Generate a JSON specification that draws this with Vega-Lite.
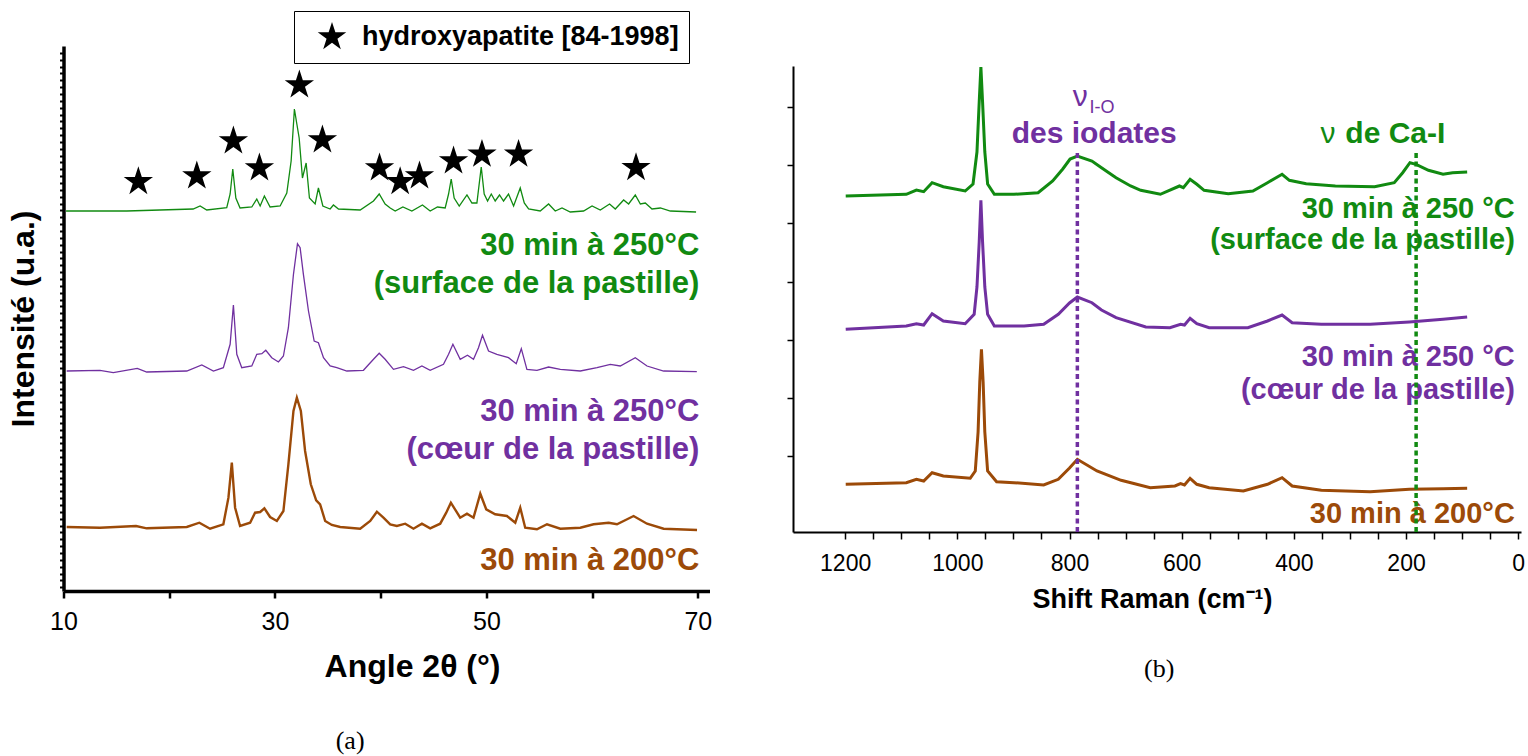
{
  "$schema": "https://vega.github.io/schema/vega-lite/v6.json",
  "background": "white",
  "padding": {"left": 7.5, "top": 10, "right": 0, "bottom": 0},
  "bounds": "flush",
  "spacing": 83.5,
  "config": {
    "view": {"stroke": null},
    "font": "Liberation Sans",
    "axis": {"grid": false, "labelFont": "Liberation Sans", "titleFont": "Liberation Sans", "labelColor": "black", "titleColor": "black", "domainColor": "black", "tickColor": "black", "labelFlush": false, "labelOverlap": false, "titleFontWeight": "bold", "labelFontWeight": "normal"}
  },
  "datasets": {
    "xrd": [
      {"sample": "250 °C surface", "angle": 10.24, "intensity": 380}, {"sample": "250 °C surface", "angle": 15.98, "intensity": 380}, {"sample": "250 °C surface", "angle": 22.26, "intensity": 382}, {"sample": "250 °C surface", "angle": 22.92, "intensity": 385}, {"sample": "250 °C surface", "angle": 23.55, "intensity": 381}, {"sample": "250 °C surface", "angle": 25.44, "intensity": 383.3}, {"sample": "250 °C surface", "angle": 25.76, "intensity": 397}, {"sample": "250 °C surface", "angle": 26.01, "intensity": 422}, {"sample": "250 °C surface", "angle": 26.3, "intensity": 393}, {"sample": "250 °C surface", "angle": 26.7, "intensity": 383}, {"sample": "250 °C surface", "angle": 27.81, "intensity": 384}, {"sample": "250 °C surface", "angle": 28.28, "intensity": 392}, {"sample": "250 °C surface", "angle": 28.6, "intensity": 385}, {"sample": "250 °C surface", "angle": 29.0, "intensity": 395}, {"sample": "250 °C surface", "angle": 29.54, "intensity": 384}, {"sample": "250 °C surface", "angle": 30.49, "intensity": 385}, {"sample": "250 °C surface", "angle": 31.12, "intensity": 398}, {"sample": "250 °C surface", "angle": 31.53, "intensity": 430}, {"sample": "250 °C surface", "angle": 31.84, "intensity": 482}, {"sample": "250 °C surface", "angle": 32.07, "intensity": 467}, {"sample": "250 °C surface", "angle": 32.29, "intensity": 453}, {"sample": "250 °C surface", "angle": 32.6, "intensity": 413}, {"sample": "250 °C surface", "angle": 32.95, "intensity": 428}, {"sample": "250 °C surface", "angle": 33.26, "intensity": 393}, {"sample": "250 °C surface", "angle": 33.8, "intensity": 387}, {"sample": "250 °C surface", "angle": 34.11, "intensity": 403}, {"sample": "250 °C surface", "angle": 34.53, "intensity": 385}, {"sample": "250 °C surface", "angle": 35.22, "intensity": 382}, {"sample": "250 °C surface", "angle": 35.53, "intensity": 386}, {"sample": "250 °C surface", "angle": 36.01, "intensity": 382}, {"sample": "250 °C surface", "angle": 38.06, "intensity": 381}, {"sample": "250 °C surface", "angle": 39.32, "intensity": 390}, {"sample": "250 °C surface", "angle": 39.86, "intensity": 397}, {"sample": "250 °C surface", "angle": 40.42, "intensity": 387}, {"sample": "250 °C surface", "angle": 40.9, "intensity": 383}, {"sample": "250 °C surface", "angle": 41.37, "intensity": 380}, {"sample": "250 °C surface", "angle": 42.1, "intensity": 384}, {"sample": "250 °C surface", "angle": 42.95, "intensity": 380}, {"sample": "250 °C surface", "angle": 43.95, "intensity": 386}, {"sample": "250 °C surface", "angle": 44.68, "intensity": 380}, {"sample": "250 °C surface", "angle": 45.37, "intensity": 384}, {"sample": "250 °C surface", "angle": 46.1, "intensity": 383}, {"sample": "250 °C surface", "angle": 46.42, "intensity": 397}, {"sample": "250 °C surface", "angle": 46.67, "intensity": 412}, {"sample": "250 °C surface", "angle": 46.95, "intensity": 393}, {"sample": "250 °C surface", "angle": 47.43, "intensity": 385}, {"sample": "250 °C surface", "angle": 48.16, "intensity": 396}, {"sample": "250 °C surface", "angle": 48.63, "intensity": 388}, {"sample": "250 °C surface", "angle": 49.1, "intensity": 388}, {"sample": "250 °C surface", "angle": 49.51, "intensity": 424}, {"sample": "250 °C surface", "angle": 49.79, "intensity": 397}, {"sample": "250 °C surface", "angle": 50.11, "intensity": 390}, {"sample": "250 °C surface", "angle": 50.46, "intensity": 397}, {"sample": "250 °C surface", "angle": 50.83, "intensity": 390}, {"sample": "250 °C surface", "angle": 51.24, "intensity": 396}, {"sample": "250 °C surface", "angle": 51.62, "intensity": 390}, {"sample": "250 °C surface", "angle": 52.09, "intensity": 397}, {"sample": "250 °C surface", "angle": 52.57, "intensity": 385}, {"sample": "250 °C surface", "angle": 53.2, "intensity": 403}, {"sample": "250 °C surface", "angle": 53.58, "intensity": 388}, {"sample": "250 °C surface", "angle": 53.99, "intensity": 382}, {"sample": "250 °C surface", "angle": 55.09, "intensity": 380}, {"sample": "250 °C surface", "angle": 55.88, "intensity": 387}, {"sample": "250 °C surface", "angle": 56.51, "intensity": 380}, {"sample": "250 °C surface", "angle": 57.15, "intensity": 383}, {"sample": "250 °C surface", "angle": 57.93, "intensity": 379}, {"sample": "250 °C surface", "angle": 59.19, "intensity": 380}, {"sample": "250 °C surface", "angle": 59.99, "intensity": 385}, {"sample": "250 °C surface", "angle": 60.77, "intensity": 381}, {"sample": "250 °C surface", "angle": 61.65, "intensity": 387}, {"sample": "250 °C surface", "angle": 62.19, "intensity": 382}, {"sample": "250 °C surface", "angle": 62.98, "intensity": 391}, {"sample": "250 °C surface", "angle": 63.45, "intensity": 387}, {"sample": "250 °C surface", "angle": 64.08, "intensity": 396}, {"sample": "250 °C surface", "angle": 64.56, "intensity": 387}, {"sample": "250 °C surface", "angle": 65.03, "intensity": 388}, {"sample": "250 °C surface", "angle": 65.66, "intensity": 382}, {"sample": "250 °C surface", "angle": 66.45, "intensity": 383}, {"sample": "250 °C surface", "angle": 67.4, "intensity": 380}, {"sample": "250 °C surface", "angle": 69.83, "intensity": 379},
      {"sample": "250 °C cœur", "angle": 10.3, "intensity": 220}, {"sample": "250 °C cœur", "angle": 13.45, "intensity": 220.7}, {"sample": "250 °C cœur", "angle": 14.71, "intensity": 218.3}, {"sample": "250 °C cœur", "angle": 16.98, "intensity": 222.7}, {"sample": "250 °C cœur", "angle": 17.87, "intensity": 219}, {"sample": "250 °C cœur", "angle": 21.66, "intensity": 220}, {"sample": "250 °C cœur", "angle": 23.08, "intensity": 226}, {"sample": "250 °C cœur", "angle": 24.18, "intensity": 220}, {"sample": "250 °C cœur", "angle": 25.12, "intensity": 223.3}, {"sample": "250 °C cœur", "angle": 25.76, "intensity": 246.7}, {"sample": "250 °C cœur", "angle": 26.07, "intensity": 286}, {"sample": "250 °C cœur", "angle": 26.39, "intensity": 236.7}, {"sample": "250 °C cœur", "angle": 26.86, "intensity": 223.3}, {"sample": "250 °C cœur", "angle": 27.81, "intensity": 225}, {"sample": "250 °C cœur", "angle": 28.28, "intensity": 236.7}, {"sample": "250 °C cœur", "angle": 28.76, "intensity": 237.3}, {"sample": "250 °C cœur", "angle": 29.13, "intensity": 240.7}, {"sample": "250 °C cœur", "angle": 29.7, "intensity": 233.3}, {"sample": "250 °C cœur", "angle": 30.33, "intensity": 229}, {"sample": "250 °C cœur", "angle": 30.8, "intensity": 235}, {"sample": "250 °C cœur", "angle": 31.27, "intensity": 263.3}, {"sample": "250 °C cœur", "angle": 31.75, "intensity": 316.7}, {"sample": "250 °C cœur", "angle": 32.13, "intensity": 347.3}, {"sample": "250 °C cœur", "angle": 32.38, "intensity": 343.3}, {"sample": "250 °C cœur", "angle": 32.69, "intensity": 316.7}, {"sample": "250 °C cœur", "angle": 33.17, "intensity": 280}, {"sample": "250 °C cœur", "angle": 33.71, "intensity": 250}, {"sample": "250 °C cœur", "angle": 34.11, "intensity": 248.3}, {"sample": "250 °C cœur", "angle": 34.59, "intensity": 233.3}, {"sample": "250 °C cœur", "angle": 35.22, "intensity": 225}, {"sample": "250 °C cœur", "angle": 35.85, "intensity": 223.3}, {"sample": "250 °C cœur", "angle": 36.8, "intensity": 220}, {"sample": "250 °C cœur", "angle": 38.37, "intensity": 220.7}, {"sample": "250 °C cœur", "angle": 39.32, "intensity": 231.7}, {"sample": "250 °C cœur", "angle": 39.86, "intensity": 237.7}, {"sample": "250 °C cœur", "angle": 40.42, "intensity": 231.7}, {"sample": "250 °C cœur", "angle": 41.21, "intensity": 221.7}, {"sample": "250 °C cœur", "angle": 42.16, "intensity": 224.3}, {"sample": "250 °C cœur", "angle": 43.1, "intensity": 220.7}, {"sample": "250 °C cœur", "angle": 43.9, "intensity": 225}, {"sample": "250 °C cœur", "angle": 44.68, "intensity": 220.7}, {"sample": "250 °C cœur", "angle": 45.94, "intensity": 226.7}, {"sample": "250 °C cœur", "angle": 46.42, "intensity": 236.7}, {"sample": "250 °C cœur", "angle": 46.83, "intensity": 246.7}, {"sample": "250 °C cœur", "angle": 47.52, "intensity": 231.7}, {"sample": "250 °C cœur", "angle": 48.21, "intensity": 235.7}, {"sample": "250 °C cœur", "angle": 48.78, "intensity": 231.7}, {"sample": "250 °C cœur", "angle": 49.25, "intensity": 243.3}, {"sample": "250 °C cœur", "angle": 49.63, "intensity": 255.7}, {"sample": "250 °C cœur", "angle": 50.2, "intensity": 240}, {"sample": "250 °C cœur", "angle": 50.99, "intensity": 236.7}, {"sample": "250 °C cœur", "angle": 52.09, "intensity": 233.3}, {"sample": "250 °C cœur", "angle": 52.82, "intensity": 227.3}, {"sample": "250 °C cœur", "angle": 53.3, "intensity": 242.3}, {"sample": "250 °C cœur", "angle": 53.83, "intensity": 221.7}, {"sample": "250 °C cœur", "angle": 54.78, "intensity": 220.7}, {"sample": "250 °C cœur", "angle": 55.88, "intensity": 224}, {"sample": "250 °C cœur", "angle": 56.99, "intensity": 221.7}, {"sample": "250 °C cœur", "angle": 58.88, "intensity": 220}, {"sample": "250 °C cœur", "angle": 60.46, "intensity": 223.3}, {"sample": "250 °C cœur", "angle": 61.72, "intensity": 226.7}, {"sample": "250 °C cœur", "angle": 62.66, "intensity": 225}, {"sample": "250 °C cœur", "angle": 64.08, "intensity": 233.3}, {"sample": "250 °C cœur", "angle": 65.19, "intensity": 225}, {"sample": "250 °C cœur", "angle": 66.76, "intensity": 220}, {"sample": "250 °C cœur", "angle": 69.9, "intensity": 219.3},
      {"sample": "200 °C", "angle": 10.3, "intensity": 64}, {"sample": "200 °C", "angle": 13.45, "intensity": 63.3}, {"sample": "200 °C", "angle": 16.86, "intensity": 65}, {"sample": "200 °C", "angle": 17.87, "intensity": 62.7}, {"sample": "200 °C", "angle": 21.66, "intensity": 64}, {"sample": "200 °C", "angle": 22.85, "intensity": 68.3}, {"sample": "200 °C", "angle": 23.86, "intensity": 62.3}, {"sample": "200 °C", "angle": 25.12, "intensity": 66.7}, {"sample": "200 °C", "angle": 25.6, "intensity": 93.3}, {"sample": "200 °C", "angle": 25.92, "intensity": 128.3}, {"sample": "200 °C", "angle": 26.23, "intensity": 83.3}, {"sample": "200 °C", "angle": 26.7, "intensity": 65}, {"sample": "200 °C", "angle": 27.65, "intensity": 68.3}, {"sample": "200 °C", "angle": 28.12, "intensity": 78.3}, {"sample": "200 °C", "angle": 28.6, "intensity": 79}, {"sample": "200 °C", "angle": 29.0, "intensity": 82.7}, {"sample": "200 °C", "angle": 29.54, "intensity": 74}, {"sample": "200 °C", "angle": 30.18, "intensity": 70}, {"sample": "200 °C", "angle": 30.8, "intensity": 80}, {"sample": "200 °C", "angle": 31.27, "intensity": 126.7}, {"sample": "200 °C", "angle": 31.75, "intensity": 180}, {"sample": "200 °C", "angle": 32.07, "intensity": 193.3}, {"sample": "200 °C", "angle": 32.45, "intensity": 180}, {"sample": "200 °C", "angle": 32.85, "intensity": 140}, {"sample": "200 °C", "angle": 33.39, "intensity": 106.7}, {"sample": "200 °C", "angle": 33.9, "intensity": 90.7}, {"sample": "200 °C", "angle": 34.27, "intensity": 86.7}, {"sample": "200 °C", "angle": 34.75, "intensity": 70}, {"sample": "200 °C", "angle": 35.38, "intensity": 66}, {"sample": "200 °C", "angle": 36.17, "intensity": 64}, {"sample": "200 °C", "angle": 38.06, "intensity": 62.3}, {"sample": "200 °C", "angle": 39.01, "intensity": 70}, {"sample": "200 °C", "angle": 39.64, "intensity": 79.3}, {"sample": "200 °C", "angle": 40.26, "intensity": 73.3}, {"sample": "200 °C", "angle": 40.9, "intensity": 66.7}, {"sample": "200 °C", "angle": 41.53, "intensity": 65}, {"sample": "200 °C", "angle": 42.32, "intensity": 67.3}, {"sample": "200 °C", "angle": 43.1, "intensity": 62.3}, {"sample": "200 °C", "angle": 43.9, "intensity": 67.3}, {"sample": "200 °C", "angle": 44.68, "intensity": 62.7}, {"sample": "200 °C", "angle": 45.63, "intensity": 67.3}, {"sample": "200 °C", "angle": 46.2, "intensity": 78.3}, {"sample": "200 °C", "angle": 46.64, "intensity": 88.3}, {"sample": "200 °C", "angle": 47.52, "intensity": 73.3}, {"sample": "200 °C", "angle": 48.16, "intensity": 77.3}, {"sample": "200 °C", "angle": 48.78, "intensity": 73.3}, {"sample": "200 °C", "angle": 49.42, "intensity": 97.3}, {"sample": "200 °C", "angle": 49.98, "intensity": 81.7}, {"sample": "200 °C", "angle": 50.83, "intensity": 76.7}, {"sample": "200 °C", "angle": 51.94, "intensity": 75}, {"sample": "200 °C", "angle": 52.73, "intensity": 68.3}, {"sample": "200 °C", "angle": 53.2, "intensity": 83.3}, {"sample": "200 °C", "angle": 53.67, "intensity": 63.3}, {"sample": "200 °C", "angle": 54.78, "intensity": 61.7}, {"sample": "200 °C", "angle": 55.73, "intensity": 66.7}, {"sample": "200 °C", "angle": 56.99, "intensity": 62.3}, {"sample": "200 °C", "angle": 58.88, "intensity": 63.3}, {"sample": "200 °C", "angle": 60.14, "intensity": 66.7}, {"sample": "200 °C", "angle": 61.56, "intensity": 68.3}, {"sample": "200 °C", "angle": 62.35, "intensity": 66.7}, {"sample": "200 °C", "angle": 63.92, "intensity": 75}, {"sample": "200 °C", "angle": 65.19, "intensity": 67.3}, {"sample": "200 °C", "angle": 66.76, "intensity": 62.3}, {"sample": "200 °C", "angle": 69.92, "intensity": 61}
    ],
    "stars": [
      {"angle": 17.08, "intensity": 409.3}, {"angle": 22.61, "intensity": 415}, {"angle": 26.07, "intensity": 450}, {"angle": 28.53, "intensity": 423}, {"angle": 32.31, "intensity": 506}, {"angle": 34.49, "intensity": 451}, {"angle": 39.89, "intensity": 423}, {"angle": 41.84, "intensity": 409.3}, {"angle": 43.67, "intensity": 415}, {"angle": 46.89, "intensity": 430}, {"angle": 49.58, "intensity": 436.7}, {"angle": 53.04, "intensity": 436.7}, {"angle": 64.15, "intensity": 423.3}
    ],
    "labelsA": [
      {"angle": 70.14, "intensity": 336, "text": "30 min à 250°C", "sample": "250 °C surface"},
      {"angle": 70.14, "intensity": 298, "text": "(surface de la pastille)", "sample": "250 °C surface"},
      {"angle": 70.14, "intensity": 170, "text": "30 min à 250°C", "sample": "250 °C cœur"},
      {"angle": 70.14, "intensity": 132, "text": "(cœur de la pastille)", "sample": "250 °C cœur"},
      {"angle": 70.14, "intensity": 21, "text": "30 min à 200°C", "sample": "200 °C"}
    ],
    "captionA": [{"angle": 37.11, "intensity": -158, "text": "(a)"}],
    "raman": [
      {"sample": "250 °C surface", "shift": 1199, "intensity": 336}, {"sample": "250 °C surface", "shift": 1091, "intensity": 337.7}, {"sample": "250 °C surface", "shift": 1073, "intensity": 342}, {"sample": "250 °C surface", "shift": 1060, "intensity": 340.3}, {"sample": "250 °C surface", "shift": 1045, "intensity": 349.3}, {"sample": "250 °C surface", "shift": 1025, "intensity": 345.3}, {"sample": "250 °C surface", "shift": 986, "intensity": 341}, {"sample": "250 °C surface", "shift": 972, "intensity": 348}, {"sample": "250 °C surface", "shift": 965, "intensity": 380}, {"sample": "250 °C surface", "shift": 961, "intensity": 430}, {"sample": "250 °C surface", "shift": 958, "intensity": 465}, {"sample": "250 °C surface", "shift": 955, "intensity": 430}, {"sample": "250 °C surface", "shift": 951, "intensity": 380}, {"sample": "250 °C surface", "shift": 946, "intensity": 348}, {"sample": "250 °C surface", "shift": 934, "intensity": 337.7}, {"sample": "250 °C surface", "shift": 899, "intensity": 337.7}, {"sample": "250 °C surface", "shift": 856, "intensity": 339.3}, {"sample": "250 °C surface", "shift": 830, "intensity": 351}, {"sample": "250 °C surface", "shift": 812, "intensity": 363}, {"sample": "250 °C surface", "shift": 799, "intensity": 373}, {"sample": "250 °C surface", "shift": 786, "intensity": 376}, {"sample": "250 °C surface", "shift": 760, "intensity": 371}, {"sample": "250 °C surface", "shift": 743, "intensity": 364.3}, {"sample": "250 °C surface", "shift": 717, "intensity": 354.3}, {"sample": "250 °C surface", "shift": 691, "intensity": 346}, {"sample": "250 °C surface", "shift": 673, "intensity": 341.7}, {"sample": "250 °C surface", "shift": 638, "intensity": 337.7}, {"sample": "250 °C surface", "shift": 604, "intensity": 346}, {"sample": "250 °C surface", "shift": 597, "intensity": 344.3}, {"sample": "250 °C surface", "shift": 585, "intensity": 352.7}, {"sample": "250 °C surface", "shift": 573, "intensity": 347.7}, {"sample": "250 °C surface", "shift": 560, "intensity": 341.7}, {"sample": "250 °C surface", "shift": 517, "intensity": 338.3}, {"sample": "250 °C surface", "shift": 473, "intensity": 341}, {"sample": "250 °C surface", "shift": 447, "intensity": 349.3}, {"sample": "250 °C surface", "shift": 421, "intensity": 357.7}, {"sample": "250 °C surface", "shift": 408, "intensity": 351.7}, {"sample": "250 °C surface", "shift": 378, "intensity": 348.3}, {"sample": "250 °C surface", "shift": 326, "intensity": 346}, {"sample": "250 °C surface", "shift": 256, "intensity": 345.3}, {"sample": "250 °C surface", "shift": 221, "intensity": 349.3}, {"sample": "250 °C surface", "shift": 206, "intensity": 359.3}, {"sample": "250 °C surface", "shift": 193, "intensity": 369.3}, {"sample": "250 °C surface", "shift": 182, "intensity": 367.7}, {"sample": "250 °C surface", "shift": 160, "intensity": 361.7}, {"sample": "250 °C surface", "shift": 134, "intensity": 357.7}, {"sample": "250 °C surface", "shift": 117, "intensity": 359.3}, {"sample": "250 °C surface", "shift": 91, "intensity": 360},
      {"sample": "250 °C cœur", "shift": 1199, "intensity": 202.7}, {"sample": "250 °C cœur", "shift": 1091, "intensity": 206}, {"sample": "250 °C cœur", "shift": 1073, "intensity": 208.3}, {"sample": "250 °C cœur", "shift": 1060, "intensity": 207}, {"sample": "250 °C cœur", "shift": 1045, "intensity": 218.3}, {"sample": "250 °C cœur", "shift": 1025, "intensity": 211}, {"sample": "250 °C cœur", "shift": 986, "intensity": 208.3}, {"sample": "250 °C cœur", "shift": 970, "intensity": 217.7}, {"sample": "250 °C cœur", "shift": 965, "intensity": 245}, {"sample": "250 °C cœur", "shift": 961, "intensity": 290}, {"sample": "250 °C cœur", "shift": 958, "intensity": 331.7}, {"sample": "250 °C cœur", "shift": 955, "intensity": 290}, {"sample": "250 °C cœur", "shift": 951, "intensity": 245}, {"sample": "250 °C cœur", "shift": 946, "intensity": 217.7}, {"sample": "250 °C cœur", "shift": 934, "intensity": 206}, {"sample": "250 °C cœur", "shift": 881, "intensity": 206}, {"sample": "250 °C cœur", "shift": 846, "intensity": 207.7}, {"sample": "250 °C cœur", "shift": 820, "intensity": 217.7}, {"sample": "250 °C cœur", "shift": 800, "intensity": 229}, {"sample": "250 °C cœur", "shift": 786, "intensity": 235}, {"sample": "250 °C cœur", "shift": 760, "intensity": 229.3}, {"sample": "250 °C cœur", "shift": 743, "intensity": 222}, {"sample": "250 °C cœur", "shift": 717, "intensity": 214.3}, {"sample": "250 °C cœur", "shift": 664, "intensity": 205}, {"sample": "250 °C cœur", "shift": 621, "intensity": 204.3}, {"sample": "250 °C cœur", "shift": 602, "intensity": 207.7}, {"sample": "250 °C cœur", "shift": 595, "intensity": 207}, {"sample": "250 °C cœur", "shift": 585, "intensity": 213.7}, {"sample": "250 °C cœur", "shift": 573, "intensity": 208.3}, {"sample": "250 °C cœur", "shift": 551, "intensity": 204.3}, {"sample": "250 °C cœur", "shift": 482, "intensity": 204.3}, {"sample": "250 °C cœur", "shift": 447, "intensity": 211}, {"sample": "250 °C cœur", "shift": 421, "intensity": 217}, {"sample": "250 °C cœur", "shift": 403, "intensity": 209.3}, {"sample": "250 °C cœur", "shift": 351, "intensity": 207.7}, {"sample": "250 °C cœur", "shift": 264, "intensity": 207.7}, {"sample": "250 °C cœur", "shift": 194, "intensity": 210}, {"sample": "250 °C cœur", "shift": 134, "intensity": 212.7}, {"sample": "250 °C cœur", "shift": 91, "intensity": 215},
      {"sample": "200 °C", "shift": 1199, "intensity": 47.7}, {"sample": "200 °C", "shift": 1091, "intensity": 49.3}, {"sample": "200 °C", "shift": 1073, "intensity": 52.7}, {"sample": "200 °C", "shift": 1060, "intensity": 51}, {"sample": "200 °C", "shift": 1045, "intensity": 59.3}, {"sample": "200 °C", "shift": 1025, "intensity": 56}, {"sample": "200 °C", "shift": 977, "intensity": 53.7}, {"sample": "200 °C", "shift": 968, "intensity": 61}, {"sample": "200 °C", "shift": 963, "intensity": 100}, {"sample": "200 °C", "shift": 960, "intensity": 150}, {"sample": "200 °C", "shift": 957, "intensity": 182.7}, {"sample": "200 °C", "shift": 954, "intensity": 150}, {"sample": "200 °C", "shift": 951, "intensity": 100}, {"sample": "200 °C", "shift": 946, "intensity": 61}, {"sample": "200 °C", "shift": 930, "intensity": 50.3}, {"sample": "200 °C", "shift": 899, "intensity": 49.3}, {"sample": "200 °C", "shift": 846, "intensity": 47}, {"sample": "200 °C", "shift": 820, "intensity": 52.7}, {"sample": "200 °C", "shift": 800, "intensity": 64}, {"sample": "200 °C", "shift": 786, "intensity": 72.7}, {"sample": "200 °C", "shift": 751, "intensity": 61}, {"sample": "200 °C", "shift": 708, "intensity": 51.7}, {"sample": "200 °C", "shift": 656, "intensity": 44.3}, {"sample": "200 °C", "shift": 612, "intensity": 46}, {"sample": "200 °C", "shift": 602, "intensity": 48.3}, {"sample": "200 °C", "shift": 595, "intensity": 47}, {"sample": "200 °C", "shift": 585, "intensity": 53.7}, {"sample": "200 °C", "shift": 573, "intensity": 47.7}, {"sample": "200 °C", "shift": 551, "intensity": 44.3}, {"sample": "200 °C", "shift": 490, "intensity": 41}, {"sample": "200 °C", "shift": 447, "intensity": 47.7}, {"sample": "200 °C", "shift": 421, "intensity": 54.3}, {"sample": "200 °C", "shift": 403, "intensity": 46}, {"sample": "200 °C", "shift": 351, "intensity": 41.7}, {"sample": "200 °C", "shift": 264, "intensity": 40.3}, {"sample": "200 °C", "shift": 194, "intensity": 42.7}, {"sample": "200 °C", "shift": 134, "intensity": 43.3}, {"sample": "200 °C", "shift": 91, "intensity": 43.7}
    ],
    "refs": [
      {"shift": 786, "intensity": 0, "top": 379, "sample": "250 °C cœur"},
      {"shift": 182, "intensity": 0, "top": 379, "sample": "250 °C surface"}
    ],
    "labelsB": [
      {"shift": 6, "intensity": 314, "text": "30 min à 250 °C", "sample": "250 °C surface"},
      {"shift": 6, "intensity": 283, "text": "(surface de la pastille)", "sample": "250 °C surface"},
      {"shift": 6, "intensity": 166, "text": "30 min à 250 °C", "sample": "250 °C cœur"},
      {"shift": 6, "intensity": 133, "text": "(cœur de la pastille)", "sample": "250 °C cœur"},
      {"shift": 6, "intensity": 9, "text": "30 min à 200°C", "sample": "200 °C"}
    ],
    "nu": [
      {"shift": 781, "intensity": 426, "text": "ν", "sample": "250 °C cœur"},
      {"shift": 339, "intensity": 389, "text": "ν", "sample": "250 °C surface"}
    ],
    "sub": [
      {"shift": 742, "intensity": 419, "text": "I-O", "sample": "250 °C cœur"}
    ],
    "annot": [
      {"shift": 756, "intensity": 389, "text": "des iodates", "sample": "250 °C cœur"},
      {"shift": 219, "intensity": 389, "text": "de Ca-I", "sample": "250 °C surface"}
    ],
    "captionB": [{"shift": 640, "intensity": -145, "text": "(b)"}]
  },
  "hconcat": [
    {
      "width": 646,
      "height": 545,
      "encoding": {
        "x": {"field": "angle", "type": "quantitative", "scale": {"domain": [10, 71.1], "nice": false, "zero": false},
          "axis": {"values": [10, 20, 30, 40, 50, 60, 70], "labelExpr": "datum.value % 20 === 10 ? datum.label : ''", "labelFontSize": 25, "labelPadding": 11,
            "tickSize": 7, "tickWidth": 2.5, "domainWidth": 3.5,
            "title": "Angle 2θ (°)", "titleFontSize": 32, "titleX": 348.5, "titleY": 85, "titleBaseline": "alphabetic", "titleAlign": "center"}},
        "y": {"field": "intensity", "type": "quantitative", "scale": {"domain": [0, 545], "nice": false, "zero": false},
          "axis": {"values": [3.8, 10.65, 17.5, 24.35, 31.2, 38.05, 44.9, 51.75, 58.6, 65.45, 72.3, 79.15, 86, 92.85, 99.7, 106.55, 113.4, 120.25, 127.1, 133.95, 140.8, 147.65, 154.5, 161.35, 168.2, 175.05, 181.9, 188.75, 195.6, 202.45, 209.3, 216.15, 223, 229.85, 236.7, 243.55, 250.4, 257.25, 264.1, 270.95, 277.8, 284.65, 291.5, 298.35, 305.2, 312.05, 318.9, 325.75, 332.6, 339.45, 346.3, 353.15, 360, 366.85, 373.7, 380.55, 387.4, 394.25, 401.1, 407.95, 414.8, 421.65, 428.5, 435.35, 442.2, 449.05, 455.9, 462.75, 469.6, 476.45, 483.3, 490.15, 497, 503.85, 510.7, 517.55, 524.4, 531.25, 538.1],
            "labels": false, "tickWidth": 2, "domainWidth": 3.5, "tickSize": 4,
            "title": "Intensité (u.a.)", "titleFontSize": 32, "titlePadding": 18}}
      },
      "layer": [
        {"data": {"name": "xrd"}, "transform": [{"filter": "datum.sample !== '200 °C'"}],
          "mark": {"type": "line", "strokeWidth": 1.3},
          "encoding": {"color": {"field": "sample", "type": "nominal", "scale": {"domain": ["250 °C surface", "250 °C cœur", "200 °C"], "range": ["#118a11", "#7030a0", "#9c4a08"]}, "legend": null}}},
        {"data": {"name": "xrd"}, "transform": [{"filter": "datum.sample === '200 °C'"}],
          "mark": {"type": "line", "strokeWidth": 2.4},
          "encoding": {"color": {"field": "sample", "type": "nominal", "scale": {"domain": ["250 °C surface", "250 °C cœur", "200 °C"], "range": ["#118a11", "#7030a0", "#9c4a08"]}, "legend": null}}},
        {"data": {"name": "stars"},
          "mark": {"type": "point", "filled": true, "color": "black", "opacity": 1, "size": 950},
          "encoding": {"shape": {"datum": "hydroxyapatite [84-1998]", "type": "nominal",
            "scale": {"range": ["M0,-1L0.225,-0.309L0.951,-0.309L0.363,0.118L0.588,0.809L0,0.382L-0.588,0.809L-0.363,0.118L-0.951,-0.309L-0.225,-0.309Z"]},
            "legend": {"orient": "none", "legendX": 230.5, "legendY": -35, "title": null, "strokeColor": "black", "fillColor": "white", "padding": 10,
              "labelFont": "Liberation Sans", "labelFontSize": 27, "labelFontWeight": "bold", "labelColor": "black", "labelLimit": 600, "labelOffset": 14,
              "labelExpr": "datum.label + '\u00a0\u00a0\u00a0\u00a0'",
              "symbolSize": 900, "symbolFillColor": "black", "symbolStrokeColor": "black", "symbolOffset": 12}}}},
        {"data": {"name": "labelsA"},
          "mark": {"type": "text", "align": "right", "baseline": "alphabetic", "font": "Liberation Sans", "fontSize": 31, "fontWeight": "bold"},
          "encoding": {"text": {"field": "text"}, "color": {"field": "sample", "type": "nominal", "scale": {"domain": ["250 °C surface", "250 °C cœur", "200 °C"], "range": ["#118a11", "#7030a0", "#9c4a08"]}, "legend": null}}},
        {"data": {"name": "captionA"},
          "mark": {"type": "text", "font": "Liberation Serif", "fontSize": 26, "align": "center", "baseline": "alphabetic", "color": "black"},
          "encoding": {"text": {"field": "text"}}}
      ]
    },
    {
      "width": 728,
      "height": 486,
      "encoding": {
        "x": {"field": "shift", "type": "quantitative", "scale": {"domain": [-5, 1293], "reverse": true, "nice": false, "zero": false},
          "axis": {"values": [0, 50, 100, 150, 200, 250, 300, 350, 400, 450, 500, 550, 600, 650, 700, 750, 800, 850, 900, 950, 1000, 1050, 1100, 1150, 1200], "format": "d",
            "labelExpr": "datum.value % 200 === 0 ? datum.label : ''", "labelFontSize": 23, "labelPadding": 13,
            "tickSize": 7, "tickWidth": 1.5, "domainWidth": 2,
            "title": "Shift Raman  (cm⁻¹)", "titleFontSize": 27, "titleX": 359, "titleY": 75, "titleBaseline": "alphabetic", "titleAlign": "center"}},
        "y": {"field": "intensity", "type": "quantitative", "scale": {"domain": [0, 466], "nice": false, "zero": false, "rangeMax": 20},
          "axis": {"values": [76, 134, 192, 250, 309, 367, 425], "labels": false, "title": null, "tickWidth": 1.5, "domainWidth": 2, "tickSize": 6}}
      },
      "layer": [
        {"data": {"name": "raman"},
          "mark": {"type": "line", "strokeWidth": 3},
          "encoding": {"color": {"field": "sample", "type": "nominal", "scale": {"domain": ["250 °C surface", "250 °C cœur", "200 °C"], "range": ["#118a11", "#7030a0", "#9c4a08"]}, "legend": null}}},
        {"data": {"name": "labelsB"},
          "mark": {"type": "text", "align": "right", "baseline": "alphabetic", "font": "Liberation Sans", "fontSize": 29, "fontWeight": "bold"},
          "encoding": {"text": {"field": "text"}, "color": {"field": "sample", "type": "nominal", "scale": {"domain": ["250 °C surface", "250 °C cœur", "200 °C"], "range": ["#118a11", "#7030a0", "#9c4a08"]}, "legend": null}}},
        {"data": {"name": "nu"},
          "mark": {"type": "text", "align": "center", "baseline": "alphabetic", "font": "Liberation Sans", "fontSize": 30, "fontWeight": "normal"},
          "encoding": {"text": {"field": "text"}, "color": {"field": "sample", "type": "nominal", "scale": {"domain": ["250 °C surface", "250 °C cœur", "200 °C"], "range": ["#118a11", "#7030a0", "#9c4a08"]}, "legend": null}}},
        {"data": {"name": "sub"},
          "mark": {"type": "text", "align": "center", "baseline": "alphabetic", "font": "Liberation Sans", "fontSize": 18, "fontWeight": "normal"},
          "encoding": {"text": {"field": "text"}, "color": {"field": "sample", "type": "nominal", "scale": {"domain": ["250 °C surface", "250 °C cœur", "200 °C"], "range": ["#118a11", "#7030a0", "#9c4a08"]}, "legend": null}}},
        {"data": {"name": "annot"},
          "mark": {"type": "text", "align": "center", "baseline": "alphabetic", "font": "Liberation Sans", "fontSize": 30, "fontWeight": "bold"},
          "encoding": {"text": {"field": "text"}, "color": {"field": "sample", "type": "nominal", "scale": {"domain": ["250 °C surface", "250 °C cœur", "200 °C"], "range": ["#118a11", "#7030a0", "#9c4a08"]}, "legend": null}}},
        {"data": {"name": "refs"},
          "mark": {"type": "rule", "strokeWidth": 3.5, "strokeDash": [5, 3.5]},
          "encoding": {"y2": {"field": "top"}, "color": {"field": "sample", "type": "nominal", "scale": {"domain": ["250 °C surface", "250 °C cœur", "200 °C"], "range": ["#118a11", "#7030a0", "#9c4a08"]}, "legend": null}}},
        {"data": {"name": "captionB"},
          "mark": {"type": "text", "font": "Liberation Serif", "fontSize": 26, "align": "center", "baseline": "alphabetic", "color": "black"},
          "encoding": {"text": {"field": "text"}}}
      ]
    }
  ]
}
